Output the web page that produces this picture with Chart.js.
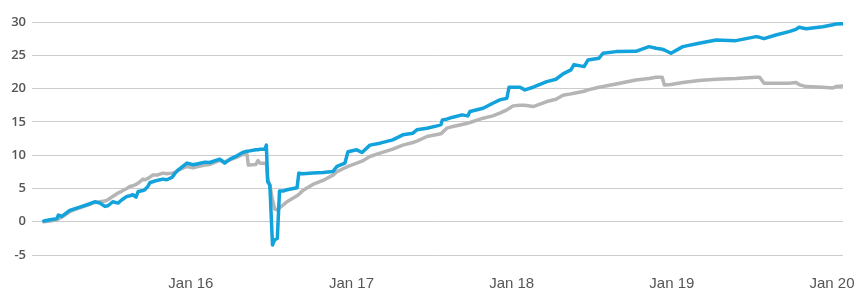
<!DOCTYPE html>
<html>
<head>
<meta charset="utf-8">
<script src="https://cdn.jsdelivr.net/npm/chart.js@4"></script>
<style>
  body { margin: 0; background: #fff; }
  #wrap { width: 856px; height: 291px; }
</style>
</head>
<body>
<div id="wrap"><canvas id="chart"></canvas></div>
<script>
// Observation dates, shared by both series
const dates = [
  '2015-01-31', '2015-02-14', '2015-02-25', '2015-03-02', '2015-03-05', '2015-03-13',
  '2015-03-31', '2015-04-23', '2015-05-16', '2015-05-27', '2015-06-08', '2015-06-19',
  '2015-06-26', '2015-07-07', '2015-07-19', '2015-07-28', '2015-08-08', '2015-08-15',
  '2015-08-22', '2015-08-29', '2015-09-03', '2015-09-14', '2015-09-18', '2015-09-25',
  '2015-09-30', '2015-10-06', '2015-10-16', '2015-10-29', '2015-11-07', '2015-11-19',
  '2015-11-26', '2015-12-02', '2015-12-23', '2016-01-06', '2016-01-17', '2016-02-02',
  '2016-02-13', '2016-03-07', '2016-03-18', '2016-03-30', '2016-04-15', '2016-04-28',
  '2016-05-08', '2016-05-11', '2016-05-28', '2016-06-02', '2016-06-06', '2016-06-18',
  '2016-06-21', '2016-06-24', '2016-06-29', '2016-07-05', '2016-07-10', '2016-07-16',
  '2016-07-21', '2016-07-29', '2016-08-07', '2016-08-30', '2016-09-03', '2016-09-12',
  '2016-10-05', '2016-10-28', '2016-11-20', '2016-11-29', '2016-12-17', '2016-12-24',
  '2017-01-13', '2017-01-25', '2017-02-12', '2017-03-07', '2017-04-05', '2017-04-28',
  '2017-05-21', '2017-05-30', '2017-06-22', '2017-07-15', '2017-07-24', '2017-07-27',
  '2017-08-06', '2017-08-20', '2017-09-10', '2017-09-23', '2017-09-28', '2017-10-28',
  '2017-11-19', '2017-12-05', '2017-12-21', '2017-12-26', '2018-01-04', '2018-01-20',
  '2018-01-31', '2018-02-19', '2018-03-22', '2018-04-12', '2018-04-28', '2018-05-16',
  '2018-05-23', '2018-06-15', '2018-06-24', '2018-07-19', '2018-07-28', '2018-08-27',
  '2018-10-11', '2018-11-10', '2018-11-26', '2018-12-10', '2018-12-15', '2018-12-30',
  '2019-01-26', '2019-03-04', '2019-04-12', '2019-05-27', '2019-07-12', '2019-07-20',
  '2019-07-30', '2019-08-26', '2019-09-25', '2019-10-11', '2019-10-18', '2019-11-03',
  '2019-12-11', '2020-01-03', '2020-01-10', '2020-01-26'
];

// Blue series
const blueValues = [
  0.1, 0.3, 0.4, 0.5, 1.0, 0.8,
  1.7, 2.2, 2.7, 3.0, 2.8, 2.3,
  2.4, 3.0, 2.8, 3.3, 3.8, 3.9,
  4.05, 3.7, 4.55, 4.7, 4.8, 5.3,
  5.9, 6.0, 6.2, 6.4, 6.3, 6.65,
  7.3, 7.7, 8.8, 8.55, 8.7, 8.95,
  8.9, 9.4, 8.8, 9.4, 9.9, 10.4,
  10.6, 10.6, 10.8, 10.8, 10.9, 10.9,
  11.5, 6.0, 5.5, -3.5, -2.7, -2.5,
  4.6, 4.6, 4.8, 5.1, 7.3, 7.2,
  7.3, 7.4, 7.55, 8.3, 8.8, 10.5,
  10.8, 10.4, 11.5, 11.8, 12.3, 13.05,
  13.3, 13.8, 14.05, 14.4, 14.6, 15.3,
  15.4, 15.7, 16.05, 15.9, 16.55, 17.05,
  17.8, 18.3, 18.55, 20.2, 20.2, 20.2,
  19.8, 20.2, 21.05, 21.4, 22.2, 22.8,
  23.6, 23.3, 24.3, 24.55, 25.3, 25.55,
  25.6, 26.3, 26.05, 25.9, 25.8, 25.3,
  26.3, 26.8, 27.3, 27.2, 27.8, 27.7,
  27.5, 28.05, 28.55, 28.9, 29.2, 29.0,
  29.3, 29.6, 29.7, 29.75
];

// Grey series
const greyValues = [
  0.0, 0.1, 0.2, 0.3, 0.4, 0.7,
  1.5, 2.1, 2.6, 2.9, 3.0, 3.1,
  3.3, 3.8, 4.3, 4.6, 5.0, 5.3,
  5.4, 5.6, 5.8, 6.4, 6.3, 6.5,
  6.7, 7.0, 7.0, 7.3, 7.2, 7.3,
  7.4, 7.7, 8.3, 8.1, 8.3, 8.5,
  8.6, 9.2, 9.0, 9.3, 9.7, 10.1,
  10.1, 8.5, 8.6, 9.2, 8.8, 8.8,
  8.8, 6.5, 5.5, 3.3, 1.9, 1.8,
  2.1, 2.5, 3.0, 3.9, 4.1, 4.7,
  5.6, 6.2, 7.0, 7.5, 8.1, 8.3,
  8.8, 9.1, 9.8, 10.3, 10.9, 11.5,
  11.9, 12.1, 12.8, 13.1, 13.2, 13.4,
  14.05, 14.3, 14.6, 14.8, 14.9, 15.55,
  15.9, 16.3, 16.8, 17.0, 17.4, 17.5,
  17.5, 17.3, 18.05, 18.4, 19.0, 19.2,
  19.3, 19.6, 19.8, 20.2, 20.3, 20.7,
  21.3, 21.5, 21.7, 21.7, 20.55, 20.6,
  20.9, 21.2, 21.4, 21.5, 21.7, 21.7,
  20.8, 20.8, 20.8, 20.9, 20.6, 20.3,
  20.2, 20.1, 20.3, 20.4
];

// X axis ticks
const tickDates = ['2016-01-01', '2017-01-01', '2018-01-01', '2019-01-01', '2020-01-01'];
const tickLabels = ['Jan 16', 'Jan 17', 'Jan 18', 'Jan 19', 'Jan 20'];
const xStart = '2015-01-04';
const xEnd = '2020-01-26';

// date string -> decimal year
function toYear(s) {
  return 1970 + Date.parse(s + 'T00:00:00Z') / (365.25 * 86400000);
}

const bluePoints = dates.map((d, i) => ({ x: toYear(d), y: blueValues[i] }));
const greyPoints = dates.map((d, i) => ({ x: toYear(d), y: greyValues[i] }));

const ctx = document.getElementById('chart').getContext('2d');

new Chart(ctx, {
  type: 'line',
  data: {
    datasets: [
      {
        data: bluePoints,
        borderColor: '#12a2dc',
        borderWidth: 3.5,
        pointRadius: 0,
        borderJoinStyle: 'round',
        borderCapStyle: 'round',
      },
      {
        data: greyPoints,
        borderColor: '#b5b5b5',
        borderWidth: 3.5,
        pointRadius: 0,
        borderJoinStyle: 'round',
        borderCapStyle: 'round',
      },
    ],
  },
  options: {
    responsive: true,
    maintainAspectRatio: false,
    animation: false,
    layout: { padding: { top: 22, right: 13, left: 0, bottom: 0 } },
    plugins: {
      legend: { display: false },
      tooltip: { enabled: false },
    },
    scales: {
      x: {
        type: 'linear',
        min: toYear(xStart),
        max: toYear(xEnd),
        afterBuildTicks: (scale) => {
          scale.ticks = tickDates.map((d) => ({ value: toYear(d) }));
        },
        afterFit: (scale) => {
          // keep the plot width fixed, the last label may hang over
          scale.height = 36;
          scale.paddingLeft = 0;
          scale.paddingRight = 0;
        },
        grid: { display: false, drawTicks: false },
        border: { display: false },
        ticks: {
          autoSkip: false,
          maxRotation: 0,
          padding: 20,
          color: '#555',
          font: { family: 'Liberation Sans', size: 15 },
          callback: (value, index) => tickLabels[index],
        },
      },
      y: {
        position: 'left',
        min: -5,
        max: 30,
        afterFit: (scale) => {
          scale.width = 32;
        },
        grid: { color: '#cccccc', lineWidth: 1, drawTicks: false },
        border: { display: false },
        ticks: {
          stepSize: 5,
          padding: 6,
          color: '#555',
          font: { family: 'Open Sans', size: 13, weight: '600' },
        },
      },
    },
  },
});
</script>
</body>
</html>
